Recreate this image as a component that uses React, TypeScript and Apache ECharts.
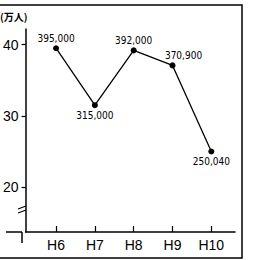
import React, { useEffect, useRef } from "react";
import * as echarts from "echarts";

const categories = ["H6", "H7", "H8", "H9", "H10"];
const values = [39.5, 31.5, 39.2, 37.09, 25.004];
const pointLabels = ["395,000", "315,000", "392,000", "370,900", "250,040"];
const labelPlaces = ["top", "bottom", "top", "top", "bottom"];
const yTicks = [20, 30, 40];
const unitLabel = "(万人)";

export default function App() {
  const ref = useRef<HTMLDivElement>(null);
  useEffect(() => {
    document.body.style.margin = "0";
    const chart = echarts.init(ref.current!, null, { renderer: "svg" });
    const numFont = "'Liberation Sans Narrow', 'DejaVu Sans Condensed', 'Liberation Sans', Arial, sans-serif";
    chart.setOption({
      animation: false,
      backgroundColor: "#ffffff",
      grid: { left: 22, right: 27, top: 29, bottom: 28 },
      xAxis: {
        type: "value",
        min: -0.785,
        max: 4.61,
        axisLine: { show: true, onZero: false, lineStyle: { color: "#000", width: 1.5 } },
        axisTick: {
          show: true,
          inside: true,
          length: 6,
          customValues: categories.map((_, i) => i),
          lineStyle: { color: "#000", width: 1.2 },
        },
        axisLabel: {
          customValues: categories.map((_, i) => i),
          formatter: (v: number) => categories[Math.round(v)] ?? "",
          color: "#000",
          fontSize: 14,
          fontFamily: "'Liberation Sans', Arial, sans-serif",
          margin: 6,
        },
        splitLine: { show: false },
      },
      yAxis: {
        type: "value",
        min: 13.7,
        max: 42.2,
        axisLine: { show: true, onZero: false, lineStyle: { color: "#000", width: 1.5 } },
        axisTick: {
          show: true,
          length: 4,
          customValues: yTicks,
          lineStyle: { color: "#000", width: 1.2 },
        },
        axisLabel: {
          customValues: yTicks,
          color: "#000",
          fontSize: 14,
          fontFamily: "'Liberation Sans', Arial, sans-serif",
          margin: 7,
        },
        splitLine: { show: false },
      },
      series: [
        {
          type: "line",
          data: values.map((v, i) => ({
            value: [i, v],
            label: {
              position: labelPlaces[i],
              offset: i === 3 ? [11, 0] : [0, 0],
            },
          })),
          symbol: "circle",
          symbolSize: 6,
          itemStyle: { color: "#000" },
          lineStyle: { color: "#000", width: 1.3 },
          label: {
            show: true,
            distance: 2,
            color: "#000",
            fontSize: 10,
            fontFamily: numFont,
            formatter: (p: any) => pointLabels[p.dataIndex],
          },
        },
      ],
      graphic: [
        {
          type: "polyline",
          shape: { points: [[0, 5], [242, 5], [242, 258], [0, 258]] },
          style: { stroke: "#000", lineWidth: 1.5, fill: "none" },
          silent: true,
        },
        {
          type: "line",
          shape: { x1: 6, y1: 232, x2: 22, y2: 232 },
          style: { stroke: "#000", lineWidth: 1.5 },
        },
        {
          type: "line",
          shape: { x1: 22, y1: 232, x2: 22, y2: 243 },
          style: { stroke: "#000", lineWidth: 1.5 },
        },
        {
          type: "line",
          shape: { x1: 18, y1: 209, x2: 26, y2: 206 },
          style: { stroke: "#000", lineWidth: 1.2 },
        },
        {
          type: "line",
          shape: { x1: 18, y1: 213, x2: 26, y2: 210 },
          style: { stroke: "#000", lineWidth: 1.2 },
        },
        {
          type: "text",
          x: 0,
          y: 11,
          style: {
            text: unitLabel,
            fill: "#000",
            fontSize: 10,
            fontWeight: "bold",
            fontFamily: "'Noto Sans CJK JP', sans-serif",
          },
        },
      ],
    });
    return () => chart.dispose();
  }, []);
  return <div ref={ref} style={{ width: 262, height: 260 }} />;
}
